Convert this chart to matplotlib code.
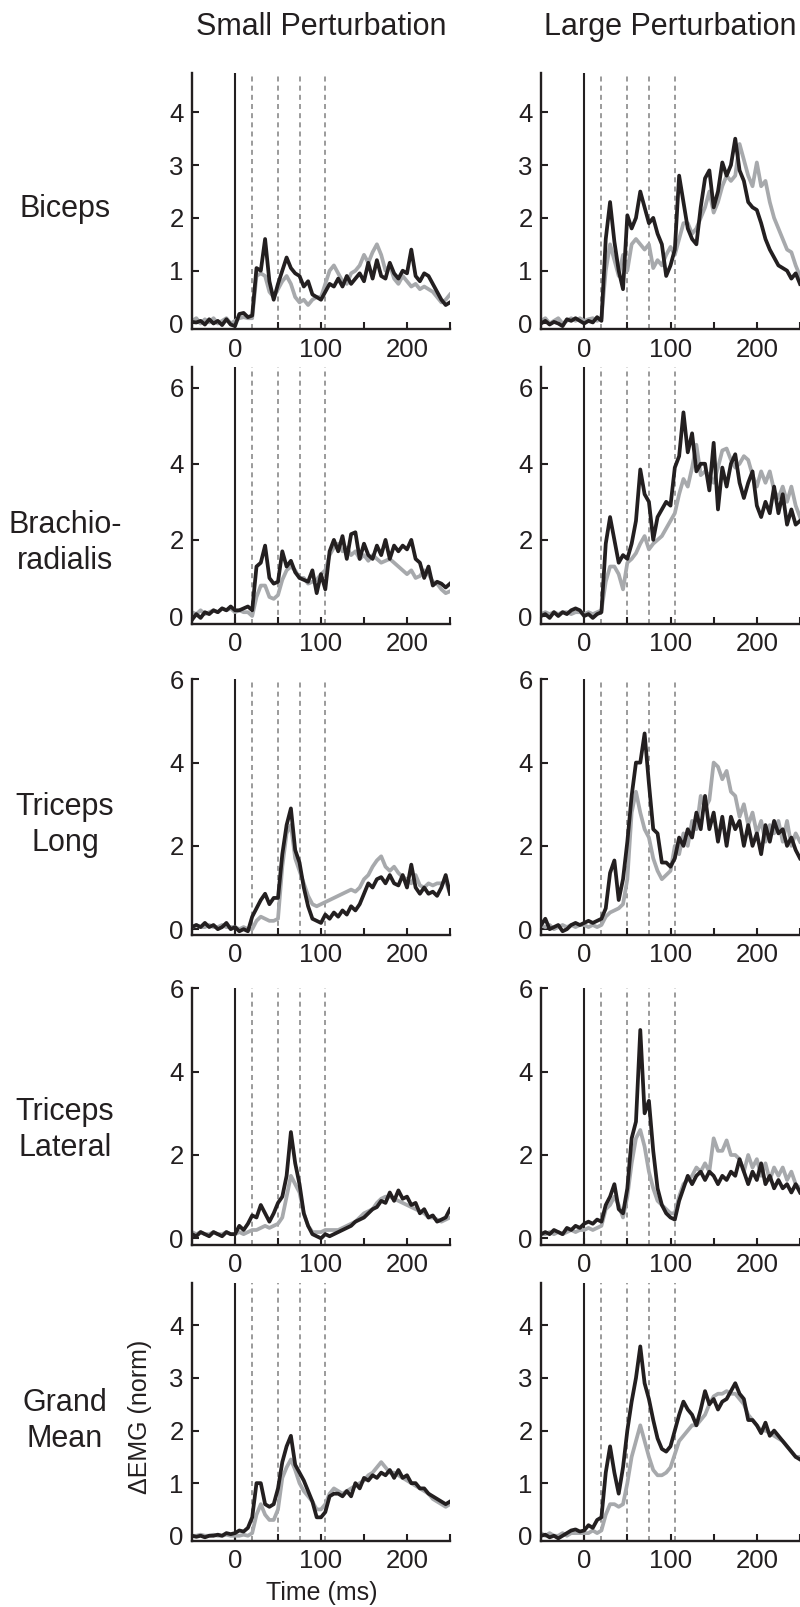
import matplotlib.pyplot as plt
import numpy as np

plt.rcParams['font.family'] = ['Liberation Sans', 'DejaVu Sans']

# time base (ms) shared by all traces
time_ms = np.arange(-50, 251, 5)

conditions = ['Small Perturbation', 'Large Perturbation']
muscles = ['Biceps', 'Brachio-\nradialis', 'Triceps\nLong', 'Triceps\nLateral', 'Grand\nMean']
marker_times = [20, 50, 75, 105]
xtick_vals = [-50, 0, 50, 100, 150, 200, 250]
xtick_labels = ['', '0', '', '100', '', '200', '']
yticks_rows = [[0, 1, 2, 3, 4], [0, 2, 4, 6], [0, 2, 4, 6], [0, 2, 4, 6], [0, 1, 2, 3, 4]]

biceps_small_black = [
    0.03, 0.02, 0.05, -0.02, 0.08, 0.0, 0.05, -0.03, 0.08, -0.02,
    -0.05, 0.18, 0.2, 0.12, 0.15, 1.05, 1.0, 1.6, 0.8, 0.45,
    0.75, 1.0, 1.25, 1.05, 0.95, 0.9, 0.7, 0.8, 0.55, 0.5,
    0.45, 0.6, 0.75, 0.7, 0.85, 0.7, 0.9, 0.75, 0.85, 0.95,
    0.8, 1.15, 0.85, 1.2, 0.9, 0.85, 1.15, 0.95, 0.85, 1.0,
    0.95, 1.4, 0.9, 0.8, 0.95, 0.9, 0.75, 0.6, 0.45, 0.35,
    0.4]
biceps_small_grey = [
    0.05, 0.1, 0.0, 0.08, 0.02, 0.1, 0.0, 0.05, 0.1, 0.0,
    0.05, 0.1, 0.12, 0.1, 0.1, 0.9, 0.95, 0.9, 0.6, 0.5,
    0.65, 0.8, 0.9, 0.75, 0.5, 0.4, 0.45, 0.35, 0.45, 0.5,
    0.5, 0.75, 1.0, 1.1, 0.95, 0.8, 0.75, 0.95, 1.0, 1.1,
    1.3, 1.15, 1.35, 1.5, 1.3, 1.0, 1.1, 0.85, 0.75, 0.9,
    0.8, 0.7, 0.75, 0.65, 0.7, 0.65, 0.6, 0.5, 0.4, 0.45,
    0.55]
biceps_large_black = [
    0.0, 0.05, -0.02, 0.03, 0.0, -0.05, 0.08, 0.05, 0.1, 0.05,
    0.0, 0.05, 0.02, 0.12, 0.05, 1.6, 2.3, 1.55, 1.0, 0.65,
    2.05, 1.8, 2.0, 2.5, 2.2, 1.9, 2.0, 1.7, 1.5, 0.9,
    1.1, 1.4, 2.8, 2.3, 1.8, 1.6, 1.5, 2.2, 2.75, 2.9,
    2.2, 2.5, 3.05, 2.8, 3.0, 3.5, 2.9, 2.7, 2.3, 2.2,
    2.15, 1.9, 1.6, 1.4, 1.25, 1.1, 1.05, 1.0, 0.85, 0.95,
    0.75]
biceps_large_grey = [
    0.05, 0.1, 0.0, 0.05, 0.1, 0.0, 0.05, 0.1, 0.05, 0.1,
    0.05, 0.08, 0.1, 0.05, 0.1, 1.0, 1.5, 1.2, 0.9, 1.3,
    1.0, 1.5, 1.6, 1.5, 1.4, 1.5, 1.05, 1.2, 1.1, 1.3,
    1.45, 1.3, 1.6, 1.9, 1.9, 1.7, 1.8, 2.0, 2.2, 2.5,
    2.1, 2.3, 2.6, 2.8, 2.7, 2.8, 3.4, 3.1, 2.8, 2.6,
    3.05, 2.6, 2.7, 2.3, 2.0, 1.8, 1.6, 1.4, 1.35, 1.1,
    0.9]

brachio_small_black = [
    -0.1, 0.05, -0.05, 0.1, 0.05, 0.15, 0.1, 0.2, 0.15, 0.25,
    0.15, 0.15, 0.2, 0.25, 0.15, 1.3, 1.4, 1.85, 1.0, 0.85,
    0.9, 1.7, 1.3, 1.45, 1.15, 1.0, 0.95, 0.9, 1.2, 0.6,
    1.1, 0.7, 1.7, 2.0, 1.7, 2.1, 1.5, 2.15, 2.2, 1.5,
    1.9, 1.6, 1.5, 1.85, 1.6, 2.0, 1.5, 1.85, 1.7, 1.85,
    1.75, 2.0, 1.5, 1.4, 1.0, 1.3, 0.8, 0.9, 0.85, 0.75,
    0.85]
brachio_small_grey = [
    0.1, 0.05, 0.15, 0.05, 0.1, 0.15, 0.1, 0.2, 0.15, 0.2,
    0.1, 0.15, 0.1, 0.1, 0.0, 0.5, 0.8, 0.8, 0.5, 0.45,
    0.55, 0.95, 1.2, 1.3, 1.2, 1.0, 1.0, 0.85, 0.9, 0.95,
    1.1, 1.2, 1.6, 1.8, 1.9, 1.7, 1.8, 1.6, 1.7, 1.5,
    1.6, 1.45, 1.6, 1.5, 1.4, 1.45, 1.5, 1.4, 1.3, 1.2,
    1.1, 1.2, 1.0, 1.05, 1.2, 1.1, 0.9, 0.85, 0.7, 0.6,
    0.65]
brachio_large_black = [
    0.0, 0.05, -0.05, 0.1, 0.0, 0.1, 0.05, 0.15, 0.2, 0.15,
    0.0, 0.05, -0.05, 0.05, 0.1, 1.9, 2.6, 2.0, 1.4, 1.6,
    1.5, 1.9, 2.5, 3.85, 3.2, 3.0, 2.0, 2.6, 2.8, 3.0,
    2.9, 3.9, 4.2, 5.35, 4.3, 4.8, 3.8, 4.0, 4.0, 3.3,
    4.55, 2.8, 3.9, 3.4, 4.0, 4.25, 3.5, 3.1, 3.5, 3.8,
    2.9, 2.6, 3.0, 2.7, 3.4, 2.7, 3.2, 2.4, 2.8, 2.4,
    2.5]
brachio_large_grey = [
    0.05, 0.1, 0.05, 0.1, 0.05, 0.1, 0.1, 0.05, 0.1, 0.1,
    0.05, 0.1, 0.05, 0.1, 0.15, 0.9, 1.3, 1.3, 1.1, 0.7,
    1.4, 1.5, 1.65, 1.9, 2.1, 1.75, 1.9, 2.0, 2.1, 2.3,
    2.5, 2.7, 3.2, 3.6, 3.4, 3.9, 4.5, 3.7, 3.8, 3.7,
    3.5, 3.9, 4.35, 4.4, 4.1, 3.9, 4.0, 4.2, 4.1, 3.7,
    3.4, 3.8, 3.5, 3.8, 3.3, 3.1, 3.4, 3.0, 3.4, 2.9,
    2.6]

triceps_long_small_black = [
    0.05, 0.1, 0.05, 0.15, 0.05, 0.1, 0.0, 0.05, 0.15, 0.0,
    0.05, -0.05, 0.0, -0.05, 0.3, 0.5, 0.7, 0.85, 0.6, 0.75,
    0.75, 1.8, 2.5, 2.9, 1.9, 1.6, 1.0, 0.55, 0.25, 0.2,
    0.15, 0.35, 0.25, 0.4, 0.3, 0.45, 0.35, 0.55, 0.45, 0.6,
    0.85, 1.1, 1.0, 1.2, 1.25, 1.1, 1.3, 1.1, 1.05, 1.3,
    1.0, 1.55, 1.0, 0.85, 1.0, 0.85, 0.9, 0.8, 1.0, 1.3,
    0.85]
triceps_long_small_grey = [
    0.05, 0.1, 0.05, 0.05, 0.1, 0.05, 0.05, 0.1, 0.05, 0.05,
    0.05, 0.0, 0.05, 0.0, 0.0, 0.2, 0.3, 0.25, 0.2, 0.2,
    0.25, 1.5, 2.3, 2.5, 1.7, 1.4, 1.1, 0.8, 0.6, 0.55,
    0.6, 0.65, 0.7, 0.75, 0.8, 0.85, 0.9, 0.95, 0.9, 1.0,
    1.2, 1.3, 1.5, 1.65, 1.75, 1.5, 1.4, 1.5, 1.35, 1.25,
    1.2, 1.1, 1.3, 1.05, 1.0, 1.1, 1.05, 1.1, 1.1, 1.15,
    0.85]
triceps_long_large_black = [
    0.1, 0.25, 0.0, 0.05, 0.1, -0.05, 0.0, 0.1, 0.15, 0.1,
    0.15, 0.2, 0.15, 0.2, 0.25, 0.5, 1.35, 1.65, 0.7, 1.2,
    2.1, 3.2, 4.0, 4.0, 4.7, 3.5, 2.4, 2.3, 1.6, 1.6,
    1.5, 1.7, 2.2, 2.0, 2.4, 2.2, 2.8, 2.4, 3.2, 2.4,
    2.8, 2.1, 2.7, 2.0, 2.7, 2.4, 2.6, 2.0, 2.5, 2.0,
    2.3, 1.8, 2.5, 2.1, 2.6, 2.3, 2.4, 2.0, 2.2, 1.9,
    1.7]
triceps_long_large_grey = [
    0.1, 0.05, 0.1, 0.0, 0.05, 0.1, 0.05, 0.1, 0.05, 0.1,
    0.1, 0.05, 0.1, 0.05, 0.1, 0.3, 0.4, 0.45, 0.5, 0.6,
    1.2, 2.8, 3.3, 2.8, 2.4, 2.2, 1.7, 1.4, 1.2, 1.3,
    1.4, 2.0, 1.8, 2.3, 2.0, 2.6, 2.4, 3.2, 2.9, 3.1,
    4.0, 3.9, 3.6, 3.8, 3.3, 3.2, 2.7, 3.0, 2.5, 2.8,
    2.3, 2.6, 2.1, 2.5, 2.3, 2.6, 2.1, 2.6, 2.0, 2.3,
    2.1]

triceps_lat_small_black = [
    0.1, 0.05, 0.15, 0.1, 0.05, 0.15, 0.1, 0.05, 0.15, 0.1,
    0.1, 0.3, 0.2, 0.35, 0.55, 0.5, 0.8, 0.6, 0.4, 0.6,
    0.85, 1.0, 1.5, 2.55, 1.8, 1.3, 0.6, 0.3, 0.1, 0.05,
    0.0, 0.1, 0.05, 0.1, 0.15, 0.2, 0.25, 0.3, 0.4, 0.45,
    0.5, 0.6, 0.7, 0.75, 0.9, 0.85, 1.1, 0.9, 1.15, 0.95,
    1.0, 0.8, 0.85, 0.6, 0.7, 0.5, 0.55, 0.4, 0.45, 0.5,
    0.7]
triceps_lat_small_grey = [
    0.15, 0.1, 0.15, 0.1, 0.1, 0.15, 0.1, 0.1, 0.15, 0.1,
    0.1, 0.15, 0.1, 0.15, 0.2, 0.2, 0.25, 0.3, 0.25, 0.3,
    0.35, 0.5, 1.0, 1.5, 1.3, 1.1, 0.6, 0.3, 0.15, 0.15,
    0.15, 0.2, 0.2, 0.2, 0.2, 0.25, 0.3, 0.35, 0.4, 0.5,
    0.6, 0.65, 0.7, 0.85, 0.95, 1.0, 1.0, 0.95, 0.9, 0.85,
    0.8, 0.75, 0.7, 0.65, 0.6, 0.5, 0.5, 0.45, 0.4, 0.45,
    0.5]
triceps_lat_large_black = [
    0.1, 0.15, 0.1, 0.2, 0.15, 0.1, 0.25, 0.2, 0.3, 0.25,
    0.35, 0.4, 0.35, 0.45, 0.4, 0.8, 1.0, 1.3, 0.7, 0.6,
    1.2, 2.4, 2.8, 5.0, 3.0, 3.3, 2.1, 1.2, 0.8, 0.6,
    0.5, 0.45, 0.9, 1.2, 1.5, 1.3, 1.5, 1.6, 1.4, 1.6,
    1.5, 1.3, 1.5, 1.4, 1.6, 1.5, 1.9, 1.6, 1.3, 1.6,
    1.4, 1.8, 1.3, 1.5, 1.2, 1.4, 1.2, 1.3, 1.1, 1.3,
    1.1]
triceps_lat_large_grey = [
    0.1, 0.1, 0.15, 0.1, 0.15, 0.1, 0.15, 0.2, 0.15, 0.2,
    0.2, 0.25, 0.2, 0.25, 0.3, 0.7, 0.8, 1.0, 0.8, 0.5,
    1.0, 1.8, 2.4, 2.6, 2.2, 1.6, 1.2, 0.9, 0.8, 0.7,
    0.6, 0.6, 1.0, 1.3, 1.4, 1.5, 1.7, 1.6, 1.8, 1.6,
    2.4, 2.1, 2.1, 2.35, 2.0, 2.0, 1.9, 1.6, 2.0, 1.7,
    1.9, 1.5, 1.8, 1.4, 1.7, 1.5, 1.7, 1.4, 1.6, 1.3,
    1.2]

grand_small_black = [
    0.0, -0.02, 0.0, -0.03, 0.0, 0.0, 0.02, 0.0, 0.05, 0.03,
    0.05, 0.1, 0.08, 0.15, 0.35, 1.0, 1.0, 0.6, 0.55, 0.6,
    0.9, 1.4, 1.7, 1.9, 1.35, 1.2, 1.05, 0.85, 0.65, 0.35,
    0.35, 0.45, 0.75, 0.8, 0.8, 0.75, 0.85, 0.75, 1.0, 0.9,
    1.1, 1.05, 1.15, 1.1, 1.2, 1.15, 1.25, 1.1, 1.25, 1.1,
    1.15, 1.0, 1.0, 0.9, 0.9, 0.8, 0.75, 0.7, 0.65, 0.6,
    0.65]
grand_small_grey = [
    0.0, 0.0, 0.02, 0.0, 0.0, 0.02, 0.0, 0.0, 0.02, 0.0,
    0.0, 0.0, 0.02, 0.0, 0.05, 0.4, 0.6, 0.4, 0.3, 0.3,
    0.5, 1.1, 1.3, 1.45, 1.25, 1.0, 0.85, 0.75, 0.65, 0.5,
    0.5, 0.6, 0.8, 0.9, 0.85, 0.8, 0.85, 0.9, 0.95, 1.0,
    1.05, 1.15, 1.2, 1.3, 1.4, 1.3, 1.2, 1.2, 1.15, 1.1,
    1.05, 1.0, 0.95, 0.9, 0.85, 0.8, 0.7, 0.65, 0.6, 0.55,
    0.6]
grand_large_black = [
    0.0, 0.02, -0.03, 0.0, -0.05, 0.0, 0.05, 0.1, 0.12, 0.08,
    0.1, 0.2, 0.15, 0.3, 0.35, 1.2, 1.7, 1.2, 0.8, 1.3,
    2.0, 2.55, 3.0, 3.6, 2.9, 2.6, 2.2, 1.85, 1.65, 1.6,
    1.7, 2.0, 2.3, 2.55, 2.4, 2.3, 2.1, 2.4, 2.75, 2.5,
    2.6, 2.4, 2.55, 2.6, 2.75, 2.9, 2.7, 2.6, 2.2, 2.2,
    2.1, 1.95, 2.15, 1.9, 2.0, 1.9, 1.8, 1.7, 1.6, 1.5,
    1.45]
grand_large_grey = [
    0.05, 0.0, 0.05, 0.0, 0.0, 0.05, 0.0, 0.05, 0.05, 0.05,
    0.05, 0.05, 0.1, 0.05, 0.1, 0.4, 0.6, 0.6, 0.55, 0.6,
    1.0, 1.5, 1.8, 2.1, 1.8, 1.5, 1.25, 1.15, 1.15, 1.2,
    1.3, 1.55, 1.8, 1.9, 2.0, 2.1, 2.1, 2.2, 2.3, 2.5,
    2.65, 2.7, 2.7, 2.75, 2.7, 2.7, 2.6, 2.5, 2.3, 2.2,
    2.1, 2.0, 2.0, 1.95, 1.9, 1.85, 1.8, 1.7, 1.6, 1.5,
    1.5]

# (grey, black) pairs per row, per column
traces = [
    [(biceps_small_grey, biceps_small_black), (biceps_large_grey, biceps_large_black)],
    [(brachio_small_grey, brachio_small_black), (brachio_large_grey, brachio_large_black)],
    [(triceps_long_small_grey, triceps_long_small_black), (triceps_long_large_grey, triceps_long_large_black)],
    [(triceps_lat_small_grey, triceps_lat_small_black), (triceps_lat_large_grey, triceps_lat_large_black)],
    [(grand_small_grey, grand_small_black), (grand_large_grey, grand_large_black)],
]

# layout in pixels of the 800 x 1607 output
W, H = 800, 1607
col_left = [192, 541]
col_width = [258, 259]
row_top = [72.7, 366.7, 679.3, 988.3, 1283.3]
row_bottom = [329.3, 624, 935, 1245, 1541]
row_ylim = [(-0.11, 4.75), (-0.21, 6.55), (-0.14, 6.0), (-0.16, 6.0), (-0.1, 4.8)]
label_y = [209, 543, 825, 1130, 1421]

ink = '#231f20'
grey = '#a7a9ac'

fig = plt.figure(figsize=(W / 100, H / 100), dpi=100)

for r in range(5):
    for c in range(2):
        ax = fig.add_axes([col_left[c] / W, 1 - row_bottom[r] / H,
                           col_width[c] / W, (row_bottom[r] - row_top[r]) / H])
        g, b = traces[r][c]
        ax.axvline(0, color=ink, lw=1.5, zorder=1)
        for mt in marker_times:
            ax.axvline(mt, color='#8a8a8a', lw=1.2, ls=(0, (3, 2.5)), zorder=1)
        ax.plot(time_ms, g, color=grey, lw=2.7, zorder=2, solid_joinstyle='round')
        ax.plot(time_ms, b, color=ink, lw=2.7, zorder=3, solid_joinstyle='round')
        ax.set_xlim(-50, 250)
        ax.set_ylim(*row_ylim[r])
        ax.set_xticks(xtick_vals)
        ax.set_xticklabels(xtick_labels)
        ax.set_yticks(yticks_rows[r])
        ax.spines['top'].set_visible(False)
        ax.spines['right'].set_visible(False)
        for s in ('left', 'bottom'):
            ax.spines[s].set_linewidth(1.7)
            ax.spines[s].set_color(ink)
        ax.tick_params(direction='in', length=5, width=1.5, colors=ink,
                       labelsize=18.5, pad=6)
        ax.patch.set_alpha(0)

for c in range(2):
    fig.text((col_left[c] + col_width[c] / 2) / W, 1 - 27 / H, conditions[c],
             ha='center', va='center', fontsize=22, color=ink)

for r in range(5):
    fig.text(65 / W, 1 - label_y[r] / H, muscles[r], ha='center', va='center',
             fontsize=22, color=ink, linespacing=1.25)

fig.text(322 / W, 1 - 1593 / H, 'Time (ms)', ha='center', va='center',
         fontsize=18, color=ink)
fig.text(140 / W, 1 - 1417 / H, '\u0394EMG (norm)', ha='center', va='center',
         rotation=90, fontsize=18, color=ink)

fig.savefig('out.png', dpi=100)
